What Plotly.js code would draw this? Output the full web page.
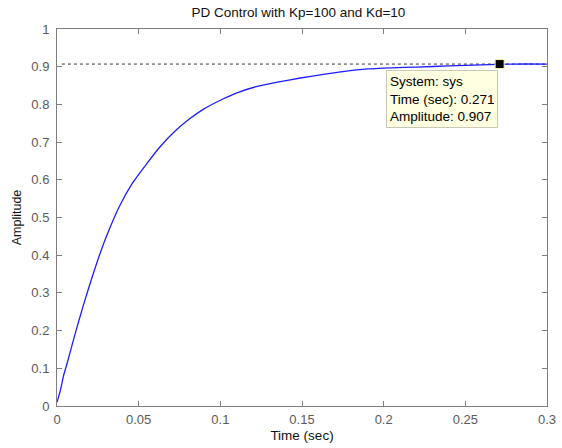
<!DOCTYPE html>
<html>
<head>
<meta charset="utf-8">
<script src="https://cdn.plot.ly/plotly-3.0.1.min.js"></script>
<style>
  html, body { margin: 0; padding: 0; background: #ffffff; }
  #chart { width: 562px; height: 448px; }
</style>
</head>
<body>
<div id="chart"></div>
<script>
// Step response of the closed loop (PD controller, Kp=100, Kd=10)
const timeSec = [0, 0.002, 0.004, 0.006, 0.011, 0.016, 0.021, 0.026, 0.030, 0.038, 0.046,
                 0.055, 0.063, 0.072, 0.081, 0.090, 0.100, 0.111, 0.122, 0.135, 0.149,
                 0.162, 0.175, 0.190, 0.205, 0.220, 0.240, 0.260, 0.280, 0.300];
const amplitude = [0.01, 0.04, 0.08, 0.11, 0.19, 0.265, 0.335, 0.40, 0.447, 0.528, 0.59,
                   0.643, 0.687, 0.728, 0.761, 0.788, 0.811, 0.832, 0.847, 0.859, 0.870,
                   0.879, 0.887, 0.894, 0.897, 0.899, 0.902, 0.905, 0.907, 0.907];

// Steady-state value and the selected data tip
const steadyState = 0.907;
const tipTime = [0.271];
const tipAmplitude = [0.907];
const tipLines = ["System: sys", "Time (sec): 0.271", "Amplitude: 0.907"];

const xTicks = [0, 0.05, 0.1, 0.15, 0.2, 0.25, 0.3];
const xTickLabels = ["0", "0.05", "0.1", "0.15", "0.2", "0.25", "0.3"];
const yTicks = [0, 0.1, 0.2, 0.3, 0.4, 0.5, 0.6, 0.7, 0.8, 0.9, 1];
const yTickLabels = ["0", "0.1", "0.2", "0.3", "0.4", "0.5", "0.6", "0.7", "0.8", "0.9", "1"];

const FONT = "Liberation Sans, Arial, sans-serif";
const AXIS_GRAY = "#7f7f7f";
const TICK_TEXT = "#5a5a5a";

const traces = [
  {
    x: timeSec,
    y: amplitude,
    type: "scatter",
    mode: "lines",
    line: { color: "rgb(30,30,255)", width: 1.3, shape: "spline", smoothing: 0.6 },
    hoverinfo: "skip"
  },
  {
    x: tipTime,
    y: tipAmplitude,
    type: "scatter",
    mode: "markers",
    marker: { symbol: "square", size: 9, color: "#000000",
              line: { color: "#f2f2c0", width: 1 } },
    hoverinfo: "skip"
  }
];

const axisCommon = {
  showgrid: false,
  zeroline: false,
  showline: true,
  linecolor: AXIS_GRAY,
  linewidth: 1,
  mirror: "ticks",
  ticks: "inside",
  ticklen: 5,
  tickcolor: AXIS_GRAY,
  tickwidth: 1,
  tickmode: "array",
  tickfont: { family: FONT, size: 13, color: TICK_TEXT },
  fixedrange: true
};

const layout = {
  width: 562,
  height: 448,
  margin: { l: 57, r: 15, t: 29, b: 42 },
  paper_bgcolor: "#ffffff",
  plot_bgcolor: "#ffffff",
  showlegend: false,
  title: {
    text: "PD Control with Kp=100 and Kd=10",
    font: { family: FONT, size: 13.5, color: "#111111" },
    x: 0.531, xanchor: "center",
    y: 0.973, yanchor: "middle"
  },
  xaxis: Object.assign({}, axisCommon, {
    range: [0, 0.3],
    tickvals: xTicks,
    ticktext: xTickLabels,
    ticklabelstandoff: 1,
    title: { text: "Time (sec)", font: { family: FONT, size: 13.5, color: "#111111" }, standoff: 4 }
  }),
  yaxis: Object.assign({}, axisCommon, {
    range: [0, 1],
    tickvals: yTicks,
    ticktext: yTickLabels,
    ticklabelstandoff: 4,
    title: { text: "Amplitude", font: { family: FONT, size: 12.5, color: "#111111" }, standoff: 6 }
  }),
  shapes: [
    {
      type: "line", xref: "x", yref: "y",
      x0: 0.003, x1: 0.3, y0: steadyState, y1: steadyState,
      line: { color: "#333333", width: 1, dash: "dot" },
      layer: "below"
    }
  ],
  annotations: [
    {
      xref: "x", yref: "y",
      x: 0.2014, y: 0.891,
      xanchor: "left", yanchor: "top",
      showarrow: false,
      align: "left",
      width: 104,
      height: 50,
      text: tipLines.join("<br>"),
      font: { family: FONT, size: 13.5, color: "#000000" },
      bgcolor: "#ffffe1",
      bordercolor: "#c8c8b4",
      borderwidth: 1,
      borderpad: 3
    }
  ]
};

Plotly.newPlot("chart", traces, layout, { displayModeBar: false, staticPlot: true });
</script>
</body>
</html>
